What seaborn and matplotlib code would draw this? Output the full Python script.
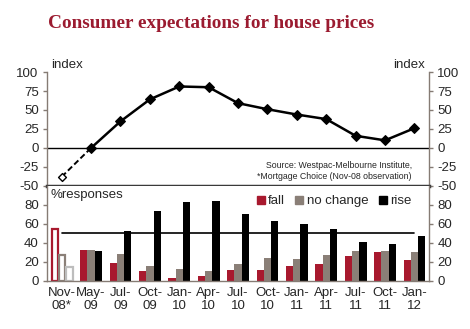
import matplotlib
matplotlib.use('Agg')
import matplotlib.pyplot as plt
from matplotlib.lines import Line2D
import seaborn as sns
import pandas as pd
import numpy as np

categories = ["Nov-\n08*", "May-\n09", "Jul-\n09", "Oct-\n09", "Jan-\n10", "Apr-\n10",
              "Jul-\n10", "Oct-\n10", "Jan-\n11", "Apr-\n11", "Jul-\n11", "Oct-\n11", "Jan-\n12"]
index_values = [-38, 0, 35, 64, 81, 80, 59, 51, 44, 38, 16, 10, 26]
fall = [56, 33, 19, 10, 3, 5, 12, 12, 16, 17.5, 26, 30, 22.5]
no_change = [28, 33, 28, 16, 12.5, 11, 18, 24, 23.5, 27.5, 32, 31, 30]
rise = [16, 32, 53, 74, 83.5, 84, 70, 63, 60, 55, 41.5, 38.5, 47.5]
series_names = ["fall", "no change", "rise"]
top_ticks = [-50, -25, 0, 25, 50, 75, 100]
bottom_ticks = [0, 20, 40, 60, 80]
reference_level = 50

sns.set_theme(style='white')
plt.rcParams['font.family'] = ['Liberation Sans', 'DejaVu Sans']
plt.rcParams['axes.unicode_minus'] = False

RED = '#A8192E'
GREY = '#8A7F77'
BLACK = '#000000'
LIGHT = '#BDBDBD'
SPINE = '#857B74'
FS = 9.5

fig = plt.figure(figsize=(4.70, 3.29), dpi=100)
ax1 = fig.add_axes([0.100, 0.435, 0.813, 0.346])
ax2 = fig.add_axes([0.100, 0.146, 0.813, 0.289])

pos = np.arange(len(categories))

# Top panel: index line
sns.lineplot(x=pos[1:], y=index_values[1:], color='black', lw=1.8, marker='D',
             markersize=5.5, markeredgecolor='black', ax=ax1)
sns.lineplot(x=pos[:2], y=index_values[:2], color='black', lw=1.4, linestyle=(0, (3, 1.5)), ax=ax1)
sns.scatterplot(x=pos[:1], y=index_values[:1], marker='D', s=16, facecolor='white',
                edgecolor='black', linewidth=1, zorder=5, ax=ax1)
ax1.axhline(0, color='black', lw=1, zorder=1)
ax1.set_xlim(-0.5, len(categories) - 0.5)
ax1.set_ylim(-50, 100)
ax1.set_yticks(top_ticks)
ax1.set_xticks([])
ax1.tick_params(axis='y', which='both', direction='out', length=3, width=1, color=SPINE,
                labelsize=FS, labelright=True, right=True, left=True, pad=3)
for s in ['left', 'right']:
    ax1.spines[s].set_color(SPINE)
    ax1.spines[s].set_linewidth(1)
ax1.spines['top'].set_visible(False)
ax1.spines['bottom'].set_color('#3a3a3a')
ax1.spines['bottom'].set_linewidth(2.5)
ax1.text(0.01, 1.01, 'index', transform=ax1.transAxes, fontsize=FS, ha='left', va='bottom')
ax1.text(0.99, 1.01, 'index', transform=ax1.transAxes, fontsize=FS, ha='right', va='bottom')
ax1.text(0.955, 0.22, 'Source: Westpac-Melbourne Institute,\n*Mortgage Choice (Nov-08 observation)',
         transform=ax1.transAxes, fontsize=6.3, ha='right', va='top', linespacing=1.25)

# Bottom panel: bars
df = pd.DataFrame({
    'cat': categories * 3,
    'series': [series_names[0]] * len(categories) + [series_names[1]] * len(categories) + [series_names[2]] * len(categories),
    'value': fall + no_change + rise,
})
palette = {series_names[0]: RED, series_names[1]: GREY, series_names[2]: BLACK}
sns.barplot(data=df, x='cat', y='value', hue='series', palette=palette, width=0.74,
            saturation=1, ax=ax2, legend=False, gap=0, linewidth=0)
open_edges = [RED, GREY, LIGHT]
for cont, ec in zip(ax2.containers, open_edges):
    b = cont[0]
    b.set_facecolor('white')
    b.set_edgecolor(ec)
    b.set_linewidth(1.6)
    x0, w = b.get_x(), b.get_width()
    b.set_x(x0 + 0.03)
    b.set_width(w - 0.03)
    b.set_height(b.get_height() - 1)

ax2.plot([0, len(categories) - 1], [reference_level, reference_level], color='black', lw=1.2, zorder=1)
ax2.set_xlim(-0.5, len(categories) - 0.5)
ax2.set_ylim(0, 100)
ax2.set_yticks(bottom_ticks)
ax2.set_xlabel('')
ax2.set_ylabel('')
ax1.set_ylabel('')
ax2.set_xticks(pos)
ax2.set_xticklabels(categories, fontsize=FS, linespacing=1.15)
ax2.set_xticks(np.arange(-0.5, len(categories), 1), minor=True)
ax2.tick_params(axis='x', which='major', length=0, pad=4)
ax2.tick_params(axis='x', which='minor', direction='out', length=4, width=1, color=SPINE)
ax2.tick_params(axis='y', which='both', direction='out', length=3, width=1, color=SPINE,
                labelsize=FS, labelright=True, right=True, left=True, pad=3)
for s in ['left', 'right', 'bottom']:
    ax2.spines[s].set_color(SPINE)
    ax2.spines[s].set_linewidth(1)
ax2.spines['top'].set_visible(False)
ax2.text(0.01, 0.97, '%responses', transform=ax2.transAxes, fontsize=FS, ha='left', va='top')

handles = [Line2D([], [], marker='s', ls='', color=c, markersize=6) for c in [RED, GREY, BLACK]]
ax2.legend(handles, series_names, loc='upper right', bbox_to_anchor=(0.985, 1.03), ncol=3,
           frameon=False, fontsize=FS, handletextpad=0.05, columnspacing=0.6, handlelength=1)

fig.text(48 / 470, 0.93, 'Consumer expectations for house prices', fontsize=13.9, fontweight='bold',
         color='#9B1B30', family='Liberation Serif', ha='left', va='center')

fig.savefig('out.png', dpi=100)
